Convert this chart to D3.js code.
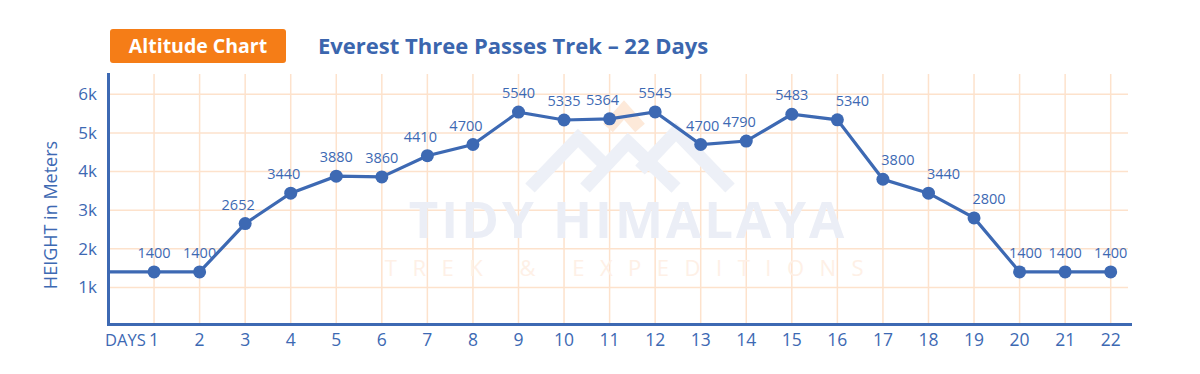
<!DOCTYPE html>
<html>
<head>
<meta charset="utf-8">
<script src="https://cdn.jsdelivr.net/npm/d3@7"></script>
<style>
  body { margin: 0; background: #fff; }
  svg { display: block; font-family: "Open Sans", "Lato", sans-serif; }
</style>
</head>
<body>
<div id="chart"></div>
<script>
// data
const days = d3.range(1, 23);
const heights = [1400, 1400, 2652, 3440, 3880, 3860, 4410, 4700, 5540, 5335, 5364,
  5545, 4700, 4790, 5483, 5340, 3800, 3440, 2800, 1400, 1400, 1400];
const yTicks = [1000, 2000, 3000, 4000, 5000, 6000];
const yTickLabels = ["1k", "2k", "3k", "4k", "5k", "6k"];

const W = 1200, H = 374;
const blue = "#3d69b3";
const grid = "#fde2cc";

const svg = d3.select("#chart").append("svg")
  .attr("width", W).attr("height", H);

// scales
const x = d3.scaleLinear().domain([0, 22]).range([108.5, 1110.7]);
const y = d3.scaleLinear().domain([0, 6500]).range([326, 75]);

// grid
svg.append("g").selectAll("line").data(yTicks).enter().append("line")
  .attr("x1", 110).attr("x2", 1128)
  .attr("y1", d => y(d)).attr("y2", d => y(d))
  .attr("stroke", grid).attr("stroke-width", 1.5);
svg.append("g").selectAll("line").data(days).enter().append("line")
  .attr("x1", d => x(d)).attr("x2", d => x(d))
  .attr("y1", 74).attr("y2", 324)
  .attr("stroke", grid).attr("stroke-width", 1.5);

// watermark (logo + name)
const wm = svg.append("g");
const logo = wm.append("g").attr("fill", "none").attr("stroke-width", 13);
logo.append("path").attr("d", "M530,188 L578,138 L610,170")
  .attr("stroke", "#edf0f7");
logo.append("path").attr("d", "M585,188 L628,142 L676,188")
  .attr("stroke", "#edf0f7");
logo.append("path").attr("d", "M640,170 L676,132 L730,188")
  .attr("stroke", "#edf0f7");
logo.append("path").attr("d", "M608,128 L624,110 L640,128")
  .attr("stroke", "#fde9d9");
wm.append("text").attr("x", 628).attr("y", 238)
  .attr("text-anchor", "middle").attr("font-size", 51).attr("font-weight", 700)
  .attr("fill", "#ebeef6").attr("letter-spacing", 3).text("TIDY HIMALAYA");
wm.append("text").attr("x", 632).attr("y", 276)
  .attr("text-anchor", "middle").attr("font-size", 22)
  .attr("fill", "#fef0e6").attr("letter-spacing", 15.5).text("TREK & EXPEDITIONS");

// axes
svg.append("line").attr("x1", 108.5).attr("x2", 108.5).attr("y1", 73).attr("y2", 326)
  .attr("stroke", blue).attr("stroke-width", 3);
svg.append("line").attr("x1", 107).attr("x2", 1132).attr("y1", 324.5).attr("y2", 324.5)
  .attr("stroke", blue).attr("stroke-width", 3);

svg.append("g").selectAll("text").data(yTicks).enter().append("text")
  .attr("x", 97).attr("y", d => y(d)).attr("dy", "0.35em")
  .attr("text-anchor", "end").attr("font-size", 17).attr("fill", blue)
  .text((d, i) => yTickLabels[i]);

svg.append("text")
  .attr("transform", "translate(57,215) rotate(-90)")
  .attr("text-anchor", "middle").attr("font-size", 18).attr("fill", blue)
  .text("HEIGHT in Meters");

svg.append("g").selectAll("text").data(days).enter().append("text")
  .attr("x", d => x(d)).attr("y", 340).attr("dy", "0.35em")
  .attr("text-anchor", "middle").attr("font-size", 17.5).attr("fill", blue)
  .text(d => d);
svg.append("text").attr("x", 105).attr("y", 340).attr("dy", "0.35em")
  .attr("font-size", 16.5).attr("fill", blue).text("DAYS");

// line
const pts = [{ d: 0, v: heights[0] }].concat(days.map((d, i) => ({ d: d, v: heights[i] })));
const line = d3.line().x(p => x(p.d)).y(p => y(p.v));
svg.append("path").datum(pts).attr("d", line)
  .attr("fill", "none").attr("stroke", blue).attr("stroke-width", 3.2);

svg.append("g").selectAll("circle").data(days).enter().append("circle")
  .attr("cx", d => x(d)).attr("cy", (d, i) => y(heights[i])).attr("r", 6.5)
  .attr("fill", blue);

// nudge value labels off the line: left on climbs, right on descents
function labelShift(i) {
  const prev = i > 0 ? heights[i - 1] : heights[i];
  const next = i < heights.length - 1 ? heights[i + 1] : heights[i];
  const v = heights[i];
  if (prev < v && v < next) return -7;
  if (prev > v && v > next) return 15;
  if (prev - v > 500 && next === v) return 6;
  if (prev - v > 500) return 2;
  return 0;
}
svg.append("g").selectAll("text").data(days).enter().append("text")
  .attr("x", (d, i) => x(d) + labelShift(i)).attr("y", (d, i) => y(heights[i]) - 14)
  .attr("text-anchor", "middle").attr("font-size", 14.5).attr("fill", blue)
  .text((d, i) => heights[i]);

// header
svg.append("rect").attr("x", 110).attr("y", 29).attr("width", 176).attr("height", 34)
  .attr("rx", 3).attr("fill", "#f57d17");
svg.append("text").attr("x", 198).attr("y", 46).attr("dy", "0.35em")
  .attr("text-anchor", "middle").attr("font-size", 19.5).attr("font-weight", 700)
  .attr("fill", "#fff").text("Altitude Chart");
svg.append("text").attr("x", 318).attr("y", 46).attr("dy", "0.35em")
  .attr("font-size", 22).attr("font-weight", 700)
  .attr("fill", "#3b66ae").text("Everest Three Passes Trek – 22 Days");
</script>
</body>
</html>
